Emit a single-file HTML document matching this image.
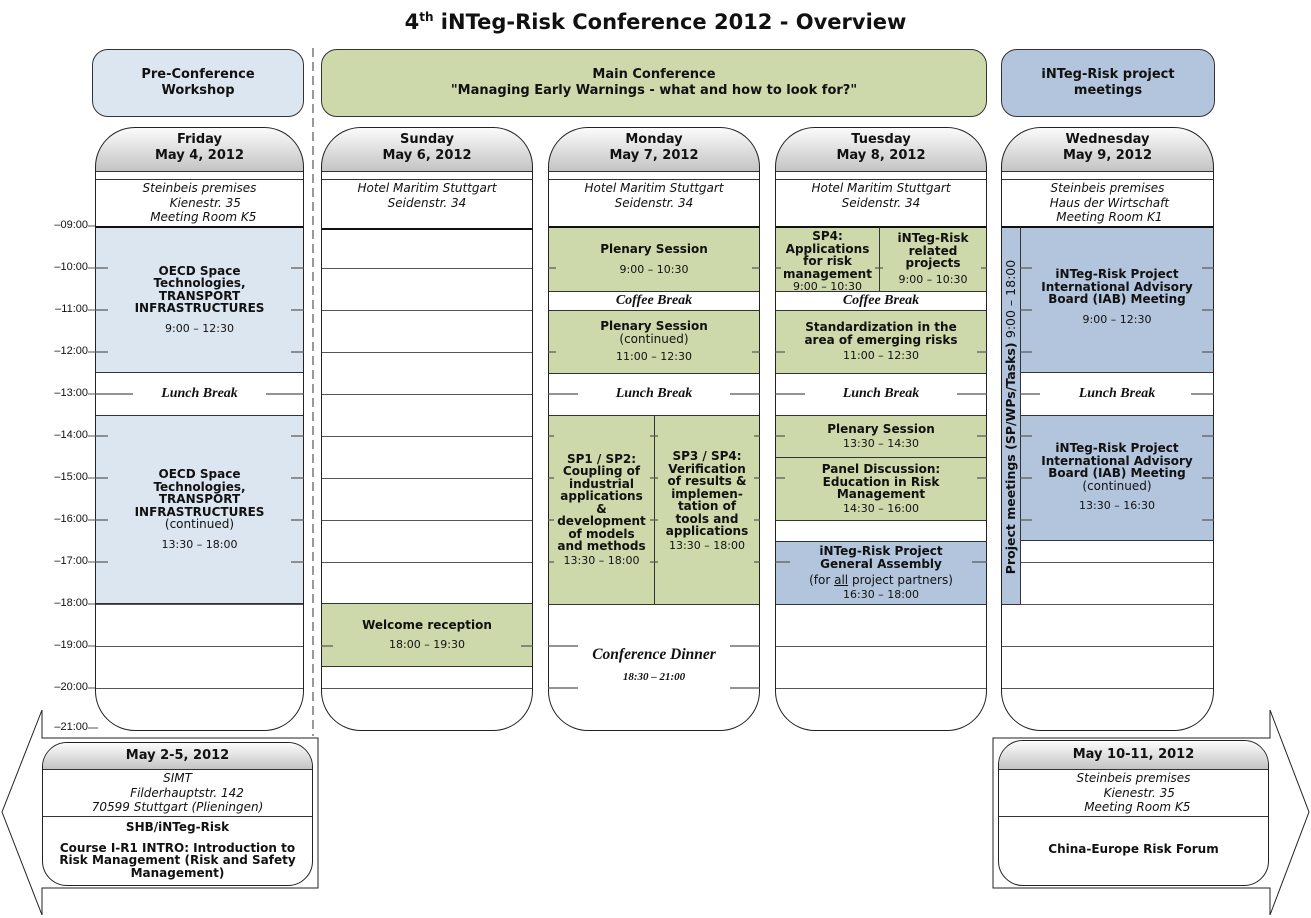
<!DOCTYPE html>
<html><head><meta charset="utf-8"><style>
body{margin:0;width:1311px;height:918px;position:relative;background:#fff;font-family:"DejaVu Sans","Liberation Sans",sans-serif;color:#111;overflow:hidden}
.a{position:absolute;box-sizing:border-box}
.hb{position:absolute;box-sizing:border-box;border:1px solid #333;border-radius:16px;display:flex;flex-direction:column;justify-content:center;align-items:center;text-align:center;font-weight:bold;font-size:13px;line-height:16px}
.col{position:absolute;top:127px;height:604px;border-radius:40px;overflow:hidden;background:#fff}
.colo{position:absolute;top:127px;height:604px;border-radius:40px;border:1px solid #222;box-sizing:border-box;z-index:5}
.hd{position:absolute;left:0;right:0;top:0;height:45px;background:linear-gradient(#fcfcfc,#c4c4c4);border-bottom:1px solid #333;text-align:center;font-weight:bold;font-size:13px;line-height:16px;padding-top:5px;box-sizing:border-box}
.loc{position:absolute;left:0;right:0;top:52px;height:47px;border-top:1px solid #333;border-bottom:2px solid #111;text-align:center;font-style:italic;font-size:12px;line-height:14.5px;white-space:pre;padding-top:1px}
.hl{position:absolute;left:0;right:0;height:1px;background:#555}
.bk{position:absolute;box-sizing:border-box;border:1px solid #333;display:flex;flex-direction:column;justify-content:center;align-items:center;text-align:center;font-weight:bold;font-size:12px;line-height:12.5px}
.g{background:#cdd9ab}.lb{background:#dce6f1}.db{background:#b3c5dd}.w{background:#fff}
.t{font-weight:normal;font-size:11px;margin-top:6px}
.n{font-weight:normal}
.br{font-family:"Liberation Serif",serif;font-style:italic;font-weight:bold;font-size:14px}
.tl{position:absolute;left:20px;width:68px;text-align:right;font-family:"Liberation Sans",sans-serif;font-size:11px;line-height:11px}
</style></head><body>
<div class="a" style="left:0;top:4px;width:1311px;text-align:center;font-weight:bold;font-size:21px;line-height:27px">4<sup style="font-size:12px">th</sup> iNTeg-Risk Conference 2012 - Overview</div>

<svg class="a" style="left:0;top:0" width="1311" height="918">
<line x1="313" y1="48" x2="313" y2="736" stroke="#999" stroke-width="2" stroke-dasharray="9,5"/>
<polygon points="42,710 42,738 318,738 318,888 42,888 42,915 2,812" fill="#fff" stroke="#222"/>
<polygon points="1270,710 1270,738 993,738 993,888 1270,888 1270,915 1309,812" fill="#fff" stroke="#222"/>
</svg>

<div class="hb lb" style="left:92px;top:49px;width:212px;height:68px">Pre-Conference<br>Workshop</div>
<div class="hb g" style="left:321px;top:49px;width:666px;height:68px">Main Conference<br>"Managing Early Warnings - what and how to look for?"</div>
<div class="hb db" style="left:1001px;top:49px;width:214px;height:68px">iNTeg-Risk project<br>meetings</div>

<div class="tl" style="top:220px">–09:00</div><div class="tl" style="top:262px">–10:00</div><div class="tl" style="top:304px">–11:00</div><div class="tl" style="top:346px">–12:00</div><div class="tl" style="top:388px">–13:00</div><div class="tl" style="top:430px">–14:00</div><div class="tl" style="top:472px">–15:00</div><div class="tl" style="top:514px">–16:00</div><div class="tl" style="top:556px">–17:00</div><div class="tl" style="top:598px">–18:00</div><div class="tl" style="top:640px">–19:00</div><div class="tl" style="top:682px">–20:00</div><div class="tl" style="top:722px">–21:00</div>
<svg class="a" style="left:0;top:0" width="100" height="740"><g stroke="#555"><line x1="88" y1="226" x2="95" y2="226"/><line x1="88" y1="268" x2="95" y2="268"/><line x1="88" y1="310" x2="95" y2="310"/><line x1="88" y1="352" x2="95" y2="352"/><line x1="88" y1="394" x2="95" y2="394"/><line x1="88" y1="436" x2="95" y2="436"/><line x1="88" y1="478" x2="95" y2="478"/><line x1="88" y1="520" x2="95" y2="520"/><line x1="88" y1="562" x2="95" y2="562"/><line x1="88" y1="604" x2="95" y2="604"/><line x1="88" y1="646" x2="95" y2="646"/><line x1="88" y1="688" x2="95" y2="688"/><line x1="88" y1="728" x2="98" y2="728"/></g></svg>

<!-- Friday -->
<div class="col" style="left:95px;width:209px">
<div class="hd">Friday<br>May 4, 2012</div>
<div class="loc">Steinbeis premises
   Kienestr. 35
  Meeting Room K5</div>
<div class="hl" style="top:141px"></div><div class="hl" style="top:183px"></div><div class="hl" style="top:225px"></div><div class="hl" style="top:267px"></div><div class="hl" style="top:309px"></div><div class="hl" style="top:351px"></div><div class="hl" style="top:393px"></div><div class="hl" style="top:435px"></div><div class="hl" style="top:477px"></div><div class="hl" style="top:519px"></div><div class="hl" style="top:561px"></div>
<div class="bk lb" style="left:0;right:0;top:99px;height:147px;border-top:2px solid #111">OECD Space<br>Technologies,<br>TRANSPORT<br>INFRASTRUCTURES<span class="t" style="margin-top:8px">9:00 – 12:30</span></div>
<div class="bk w br" style="left:0;right:0;top:245px;height:44px">Lunch Break</div>
<div class="bk lb" style="left:0;right:0;top:288px;height:189px">OECD Space<br>Technologies,<br>TRANSPORT<br>INFRASTRUCTURES<br><span class="n">(continued)</span><span class="t" style="margin-top:8px">13:30 – 18:00</span></div>
</div>
<div class="colo" style="left:95px;width:209px"></div>

<!-- Sunday -->
<div class="col" style="left:321px;width:212px">
<div class="hd">Sunday<br>May 6, 2012</div>
<div class="loc">Hotel Maritim Stuttgart
Seidenstr. 34</div>
<div class="hl" style="top:141px"></div><div class="hl" style="top:183px"></div><div class="hl" style="top:225px"></div><div class="hl" style="top:267px"></div><div class="hl" style="top:309px"></div><div class="hl" style="top:351px"></div><div class="hl" style="top:393px"></div><div class="hl" style="top:435px"></div><div class="hl" style="top:477px"></div><div class="hl" style="top:519px"></div><div class="hl" style="top:561px"></div>
<div class="bk g" style="left:0;right:0;top:476px;height:64px">Welcome reception<span class="t" style="margin-top:8px">18:00 – 19:30</span></div>
</div>
<div class="colo" style="left:321px;width:212px"></div>

<!-- Monday -->
<div class="col" style="left:548px;width:212px">
<div class="hd">Monday<br>May 7, 2012</div>
<div class="loc">Hotel Maritim Stuttgart
Seidenstr. 34</div>
<div class="hl" style="top:141px"></div><div class="hl" style="top:183px"></div><div class="hl" style="top:225px"></div><div class="hl" style="top:267px"></div><div class="hl" style="top:309px"></div><div class="hl" style="top:351px"></div><div class="hl" style="top:393px"></div><div class="hl" style="top:435px"></div><div class="hl" style="top:477px"></div>
<div class="bk g" style="left:0;right:0;top:99px;height:66px;border-top:2px solid #111">Plenary Session<span class="t" style="margin-top:8px">9:00 – 10:30</span></div>
<div class="bk w br" style="left:0;right:0;top:164px;height:20px">Coffee Break</div>
<div class="bk g" style="left:0;right:0;top:183px;height:64px">Plenary Session<span class="n">(continued)</span><span class="t">11:00 – 12:30</span></div>
<div class="bk w br" style="left:0;right:0;top:246px;height:43px">Lunch Break</div>
<div class="bk g" style="left:0;width:107px;top:288px;height:190px">SP1 / SP2:<br>Coupling of<br>industrial<br>applications<br>&amp;<br>development<br>of models<br>and methods<span class="t" style="margin-top:2px">13:30 – 18:00</span></div>
<div class="bk g" style="left:106px;right:0;top:288px;height:190px;padding-bottom:18px">SP3 / SP4:<br>Verification<br>of results &amp;<br>implemen-<br>tation of<br>tools and<br>applications<span class="t" style="margin-top:2px">13:30 – 18:00</span></div>
<div class="a br" style="left:0;right:0;top:519px;text-align:center;font-size:15.5px">Conference Dinner</div>
<div class="a br" style="left:0;right:0;top:544px;text-align:center;font-size:11px">18:30 – 21:00</div>
</div>
<div class="colo" style="left:548px;width:212px"></div>

<!-- Tuesday -->
<div class="col" style="left:775px;width:212px">
<div class="hd">Tuesday<br>May 8, 2012</div>
<div class="loc">Hotel Maritim Stuttgart
Seidenstr. 34</div>
<div class="hl" style="top:141px"></div><div class="hl" style="top:183px"></div><div class="hl" style="top:225px"></div><div class="hl" style="top:267px"></div><div class="hl" style="top:309px"></div><div class="hl" style="top:351px"></div><div class="hl" style="top:393px"></div><div class="hl" style="top:435px"></div><div class="hl" style="top:477px"></div><div class="hl" style="top:519px"></div><div class="hl" style="top:561px"></div>
<div class="bk g" style="left:0;width:105px;top:99px;height:66px;border-top:2px solid #111;justify-content:flex-start;padding-top:2px">SP4:<br>Applications<br>for risk<br>management<span class="t" style="margin-top:1px">9:00 – 10:30</span></div>
<div class="bk g" style="left:104px;right:0;top:99px;height:66px;border-top:2px solid #111;justify-content:flex-start;padding-top:4px">iNTeg-Risk<br>related<br>projects<span class="t" style="margin-top:4px">9:00 – 10:30</span></div>
<div class="bk w br" style="left:0;right:0;top:164px;height:20px">Coffee Break</div>
<div class="bk g" style="left:0;right:0;top:183px;height:64px">Standardization in the<br>area of emerging risks<span class="t" style="margin-top:4px">11:00 – 12:30</span></div>
<div class="bk w br" style="left:0;right:0;top:246px;height:43px">Lunch Break</div>
<div class="bk g" style="left:0;right:0;top:288px;height:43px">Plenary Session<span class="t" style="margin-top:3px">13:30 – 14:30</span></div>
<div class="bk g" style="left:0;right:0;top:330px;height:64px">Panel Discussion:<br>Education in Risk<br>Management<span class="t" style="margin-top:2px">14:30 – 16:00</span></div>
<div class="bk db" style="left:0;right:0;top:414px;height:64px">iNTeg-Risk Project<br>General Assembly<span class="n" style="margin-top:4px">(for <u>all</u> project partners)</span><span class="t" style="margin-top:2px">16:30 – 18:00</span></div>
</div>
<div class="colo" style="left:775px;width:212px"></div>

<!-- Wednesday -->
<div class="col" style="left:1001px;width:213px">
<div class="hd">Wednesday<br>May 9, 2012</div>
<div class="loc">Steinbeis premises
 Haus der Wirtschaft
 Meeting Room K1</div>
<div class="hl" style="top:141px"></div><div class="hl" style="top:183px"></div><div class="hl" style="top:225px"></div><div class="hl" style="top:267px"></div><div class="hl" style="top:309px"></div><div class="hl" style="top:351px"></div><div class="hl" style="top:393px"></div><div class="hl" style="top:435px"></div><div class="hl" style="top:477px"></div><div class="hl" style="top:519px"></div><div class="hl" style="top:561px"></div>
<div class="bk db" style="left:0;width:20px;top:99px;height:379px;border-top:2px solid #111"></div>
<div class="a" style="left:-180px;top:280px;width:380px;height:20px;transform:rotate(-90deg);text-align:center;font-weight:bold;font-size:12.5px;line-height:20px;white-space:nowrap">Project meetings (SP/WPs/Tasks) <span class="n">9:00 – 18:00</span></div>
<div class="bk db" style="left:19px;right:0;top:99px;height:147px;border-top:2px solid #111;justify-content:flex-start;padding-top:40px">iNTeg-Risk Project<br>International Advisory<br>Board (IAB) Meeting<span class="t" style="margin-top:8px">9:00 – 12:30</span></div>
<div class="bk w br" style="left:19px;right:0;top:245px;height:44px">Lunch Break</div>
<div class="bk db" style="left:19px;right:0;top:288px;height:126px;justify-content:flex-start;padding-top:26px">iNTeg-Risk Project<br>International Advisory<br>Board (IAB) Meeting<span class="n">(continued)</span><span class="t" style="margin-top:8px">13:30 – 16:30</span></div>
</div>
<div class="colo" style="left:1001px;width:213px"></div>

<svg class="a" style="left:0;top:0;z-index:6" width="1311" height="740"><g stroke="#555" stroke-width="1.2">
<line x1="95" y1="268" x2="108" y2="268"/><line x1="291" y1="268" x2="304" y2="268"/><line x1="95" y1="310" x2="108" y2="310"/><line x1="291" y1="310" x2="304" y2="310"/><line x1="95" y1="352" x2="108" y2="352"/><line x1="291" y1="352" x2="304" y2="352"/>
<line x1="95" y1="394" x2="133" y2="394"/><line x1="266" y1="394" x2="304" y2="394"/>
<line x1="95" y1="436" x2="108" y2="436"/><line x1="291" y1="436" x2="304" y2="436"/><line x1="95" y1="478" x2="108" y2="478"/><line x1="291" y1="478" x2="304" y2="478"/><line x1="95" y1="520" x2="108" y2="520"/><line x1="291" y1="520" x2="304" y2="520"/><line x1="95" y1="562" x2="108" y2="562"/><line x1="291" y1="562" x2="304" y2="562"/>
<line x1="321" y1="646" x2="333" y2="646"/><line x1="521" y1="646" x2="533" y2="646"/>
<line x1="548" y1="268" x2="556" y2="268"/><line x1="752" y1="268" x2="760" y2="268"/><line x1="548" y1="352" x2="556" y2="352"/><line x1="752" y1="352" x2="760" y2="352"/>
<line x1="548" y1="394" x2="578" y2="394"/><line x1="730" y1="394" x2="760" y2="394"/>
<line x1="548" y1="436" x2="554" y2="436"/><line x1="650" y1="436" x2="658" y2="436"/><line x1="754" y1="436" x2="760" y2="436"/>
<line x1="548" y1="478" x2="554" y2="478"/><line x1="650" y1="478" x2="658" y2="478"/><line x1="754" y1="478" x2="760" y2="478"/>
<line x1="548" y1="520" x2="554" y2="520"/><line x1="650" y1="520" x2="658" y2="520"/><line x1="754" y1="520" x2="760" y2="520"/>
<line x1="548" y1="562" x2="554" y2="562"/><line x1="650" y1="562" x2="658" y2="562"/><line x1="754" y1="562" x2="760" y2="562"/>
<line x1="548" y1="646" x2="578" y2="646"/><line x1="730" y1="646" x2="760" y2="646"/><line x1="548" y1="688" x2="578" y2="688"/><line x1="730" y1="688" x2="760" y2="688"/>
<line x1="775" y1="268" x2="781" y2="268"/><line x1="875" y1="268" x2="883" y2="268"/><line x1="981" y1="268" x2="987" y2="268"/>
<line x1="775" y1="352" x2="785" y2="352"/><line x1="977" y1="352" x2="987" y2="352"/>
<line x1="775" y1="394" x2="805" y2="394"/><line x1="957" y1="394" x2="987" y2="394"/>
<line x1="775" y1="436" x2="785" y2="436"/><line x1="977" y1="436" x2="987" y2="436"/><line x1="775" y1="478" x2="785" y2="478"/><line x1="977" y1="478" x2="987" y2="478"/><line x1="775" y1="562" x2="790" y2="562"/><line x1="972" y1="562" x2="987" y2="562"/>
<line x1="1020" y1="268" x2="1032" y2="268"/><line x1="1202" y1="268" x2="1214" y2="268"/><line x1="1020" y1="310" x2="1032" y2="310"/><line x1="1202" y1="310" x2="1214" y2="310"/><line x1="1020" y1="352" x2="1032" y2="352"/><line x1="1202" y1="352" x2="1214" y2="352"/>
<line x1="1020" y1="394" x2="1040" y2="394"/><line x1="1191" y1="394" x2="1214" y2="394"/>
<line x1="1020" y1="436" x2="1032" y2="436"/><line x1="1202" y1="436" x2="1214" y2="436"/><line x1="1020" y1="478" x2="1032" y2="478"/><line x1="1202" y1="478" x2="1214" y2="478"/><line x1="1020" y1="520" x2="1032" y2="520"/><line x1="1202" y1="520" x2="1214" y2="520"/>
</g></svg>

<div class="a" style="left:42px;top:742px;width:271px;height:144px;border:1px solid #222;border-radius:25px;overflow:hidden;background:#fff">
<div class="a" style="left:0;right:0;top:0;height:27px;background:linear-gradient(#fcfcfc,#c4c4c4);border-bottom:1px solid #333;text-align:center;font-weight:bold;font-size:13px;line-height:26px">May 2-5, 2012</div>
<div class="a" style="left:0;right:0;top:27px;height:47px;border-bottom:1px solid #333;text-align:center;font-style:italic;font-size:12px;line-height:14.5px;white-space:pre;padding-top:1px">SIMT
     Filderhauptstr. 142
70599 Stuttgart (Plieningen)</div>
<div class="a" style="left:0;right:0;top:78px;text-align:center;font-weight:bold;font-size:12px;line-height:12.5px">SHB/iNTeg-Risk<br><div style="height:8px"></div>Course I-R1 INTRO: Introduction to<br>Risk Management (Risk and Safety<br>Management)</div>
</div>

<div class="a" style="left:998px;top:740px;width:271px;height:146px;border:1px solid #222;border-radius:25px;overflow:hidden;background:#fff">
<div class="a" style="left:0;right:0;top:0;height:29px;background:linear-gradient(#fcfcfc,#c4c4c4);border-bottom:1px solid #333;text-align:center;font-weight:bold;font-size:13px;line-height:28px">May 10-11, 2012</div>
<div class="a" style="left:0;right:0;top:29px;height:47px;border-bottom:1px solid #333;text-align:center;font-style:italic;font-size:12px;line-height:14.5px;white-space:pre;padding-top:1px">Steinbeis premises
   Kienestr. 35
  Meeting Room K5</div>
<div class="a" style="left:0;right:0;top:101px;text-align:center;font-weight:bold;font-size:12px">China-Europe Risk Forum</div>
</div>
</body></html>
